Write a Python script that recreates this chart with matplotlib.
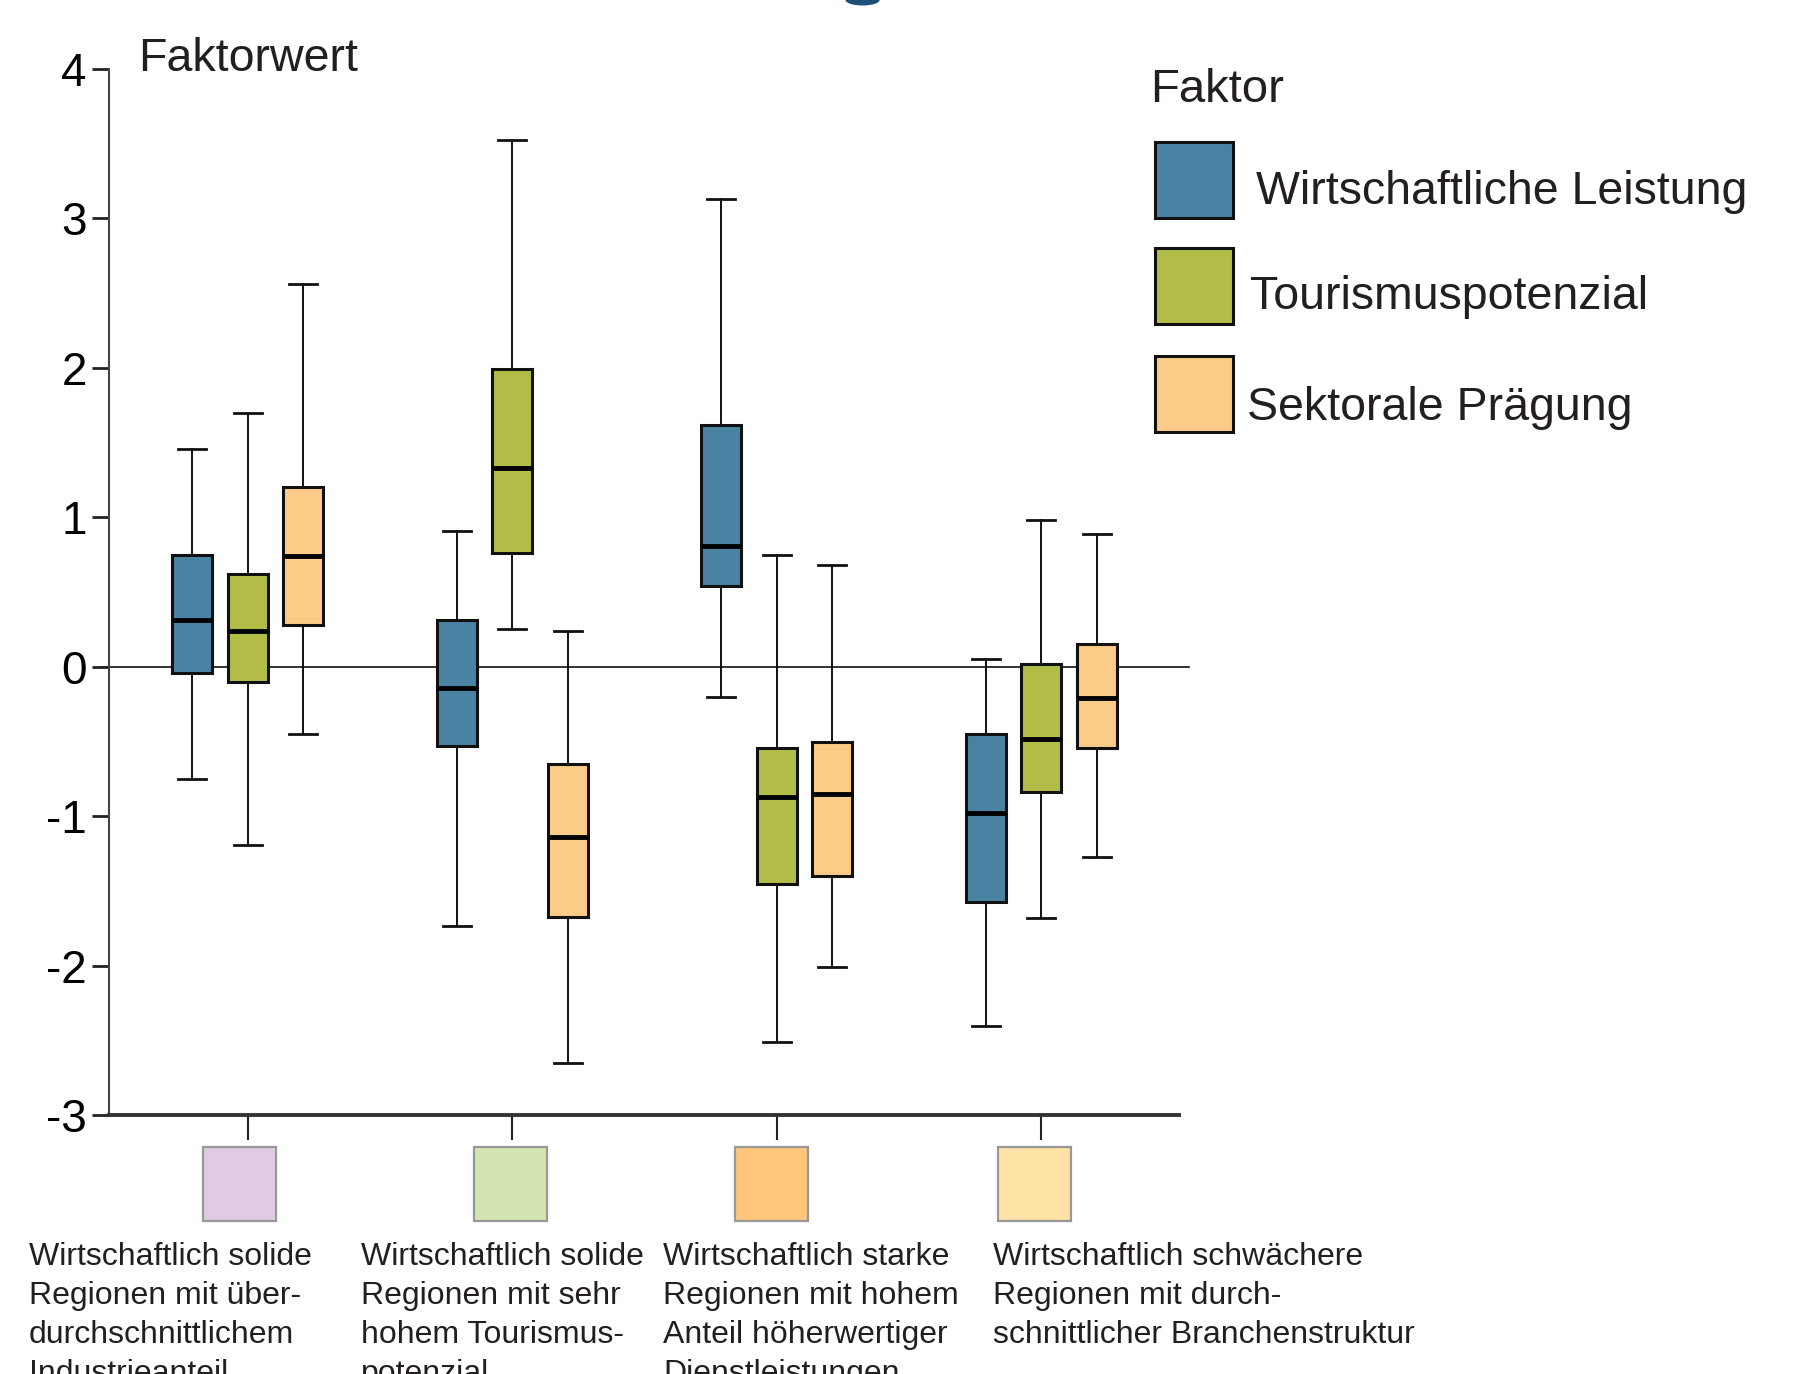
import matplotlib.pyplot as plt
from matplotlib.patches import Rectangle, Ellipse

plt.rcParams['font.family'] = ['Liberation Sans', 'DejaVu Sans']

# Faktoren (Boxen je Gruppe) und Regionstypen (Gruppen)
factors = ['Wirtschaftliche Leistung', 'Tourismuspotenzial', 'Sektorale Prägung']
groups = [
    'Wirtschaftlich solide\nRegionen mit über-\ndurchschnittlichem\nIndustrieanteil',
    'Wirtschaftlich solide\nRegionen mit sehr\nhohem Tourismus-\npotenzial',
    'Wirtschaftlich starke\nRegionen mit hohem\nAnteil höherwertiger\nDienstleistungen',
    'Wirtschaftlich schwächere\nRegionen mit durch-\nschnittlicher Branchenstruktur',
]

# Wirtschaftliche Leistung
wl_lo = [-0.75, -1.73, -0.20, -2.40]
wl_q1 = [-0.04, -0.53, 0.54, -1.57]
wl_med = [0.31, -0.14, 0.81, -0.98]
wl_q3 = [0.75, 0.31, 1.62, -0.45]
wl_hi = [1.46, 0.91, 3.13, 0.05]
# Tourismuspotenzial
tp_lo = [-1.19, 0.25, -2.51, -1.68]
tp_q1 = [-0.10, 0.76, -1.45, -0.84]
tp_med = [0.24, 1.33, -0.87, -0.48]
tp_q3 = [0.62, 1.99, -0.54, 0.02]
tp_hi = [1.70, 3.52, 0.75, 0.98]
# Sektorale Praegung
sp_lo = [-0.45, -2.65, -2.01, -1.27]
sp_q1 = [0.28, -1.67, -1.40, -0.54]
sp_med = [0.74, -1.14, -0.85, -0.21]
sp_q3 = [1.20, -0.65, -0.50, 0.15]
sp_hi = [2.56, 0.24, 0.68, 0.89]

series = [
    (wl_lo, wl_q1, wl_med, wl_q3, wl_hi),
    (tp_lo, tp_q1, tp_med, tp_q3, tp_hi),
    (sp_lo, sp_q1, sp_med, sp_q3, sp_hi),
]
box_colors = ['#4a82a3', '#b2bd48', '#fdcb88']
swatch_colors = ['#dfcce2', '#d2e5b0', '#fdc67a', '#fee2a5']
txt = '#231f20'

fig = plt.figure(figsize=(17.97, 13.74), dpi=100)
ax = fig.add_axes([0.0606, 0.1882, 0.5954, 0.7618])

offset = 0.21
width = 0.152
for k, (lo, q1, med, q3, hi) in enumerate(series):
    stats = []
    for g in range(len(groups)):
        stats.append(dict(whislo=lo[g], q1=q1[g], med=med[g], q3=q3[g],
                          whishi=hi[g], fliers=[]))
    pos = [g + 1 + (k - 1) * offset for g in range(len(groups))]
    bp = ax.bxp(stats, positions=pos, widths=width, patch_artist=True,
                showfliers=False, capwidths=width * 0.7,
                boxprops=dict(linewidth=2.2, edgecolor='#111111'),
                medianprops=dict(color='black', linewidth=3.5),
                whiskerprops=dict(color='#111111', linewidth=1.4),
                capprops=dict(color='#111111', linewidth=2.0))
    for b in bp['boxes']:
        b.set_facecolor(box_colors[k])

# Nulllinie
ax.plot([0.45, 4.56], [0, 0], color='#222222', lw=1.3, zorder=0, clip_on=False)

ax.set_xlim(0.4755, 4.52)
ax.set_ylim(-3, 4)
ax.set_yticks(range(-3, 5))
ax.set_yticklabels([str(v) for v in range(-3, 5)])
ax.set_xticks([1, 2, 3, 4])
ax.set_xticklabels([])
ax.spines['top'].set_visible(False)
ax.spines['right'].set_visible(False)
ax.spines['left'].set_color('#444444')
ax.spines['left'].set_linewidth(1.5)
ax.spines['bottom'].set_color('#333333')
ax.spines['bottom'].set_linewidth(2.8)
ax.tick_params(axis='y', direction='out', length=12, width=2, color='#222222',
               labelsize=33, labelcolor='black', pad=4)
ax.tick_params(axis='x', direction='out', length=18, width=1.5, color='#222222')

fig.text(0.0766, 0.9483, 'Faktorwert', fontsize=33.5, color=txt, va='baseline')

# Legende
fig.text(0.640, 0.9258, 'Faktor', fontsize=34, color=txt, va='baseline')
leg_tops = [0.8967, 0.8192, 0.7408]
leg_base = [0.8517, 0.775, 0.6942]
leg_x = [0.6988, 0.6956, 0.6937]
for k, name in enumerate(factors):
    fig.patches.append(Rectangle((0.6426, leg_tops[k] - 0.055), 0.0434, 0.055,
                                 transform=fig.transFigure, facecolor=box_colors[k],
                                 edgecolor='#111111', lw=2.2))
    fig.text(leg_x[k], leg_base[k], name, fontsize=33.5, color=txt, va='baseline')

# Regionstypen unter der Achse
sw_x = [0.1334, 0.284, 0.4295, 0.5756]
txt_x = [0.016, 0.201, 0.3689, 0.5526]
for g, label in enumerate(groups):
    fig.patches.append(Rectangle((sw_x[g] - 0.0204, 0.1117), 0.0408, 0.0533,
                                 transform=fig.transFigure, facecolor=swatch_colors[g],
                                 edgecolor='#999999', lw=1.6))
    for i, line in enumerate(label.split('\n')):
        fig.text(txt_x[g], 0.079 - i * 0.02833, line, fontsize=23, color=txt,
                 va='baseline')

# angeschnittener Rest des Titels oben
fig.patches.append(Ellipse((0.48, 1.0), 0.019, 0.008, transform=fig.transFigure,
                           facecolor='#1b4f78', edgecolor='none'))

fig.savefig('out.png', dpi=100)
